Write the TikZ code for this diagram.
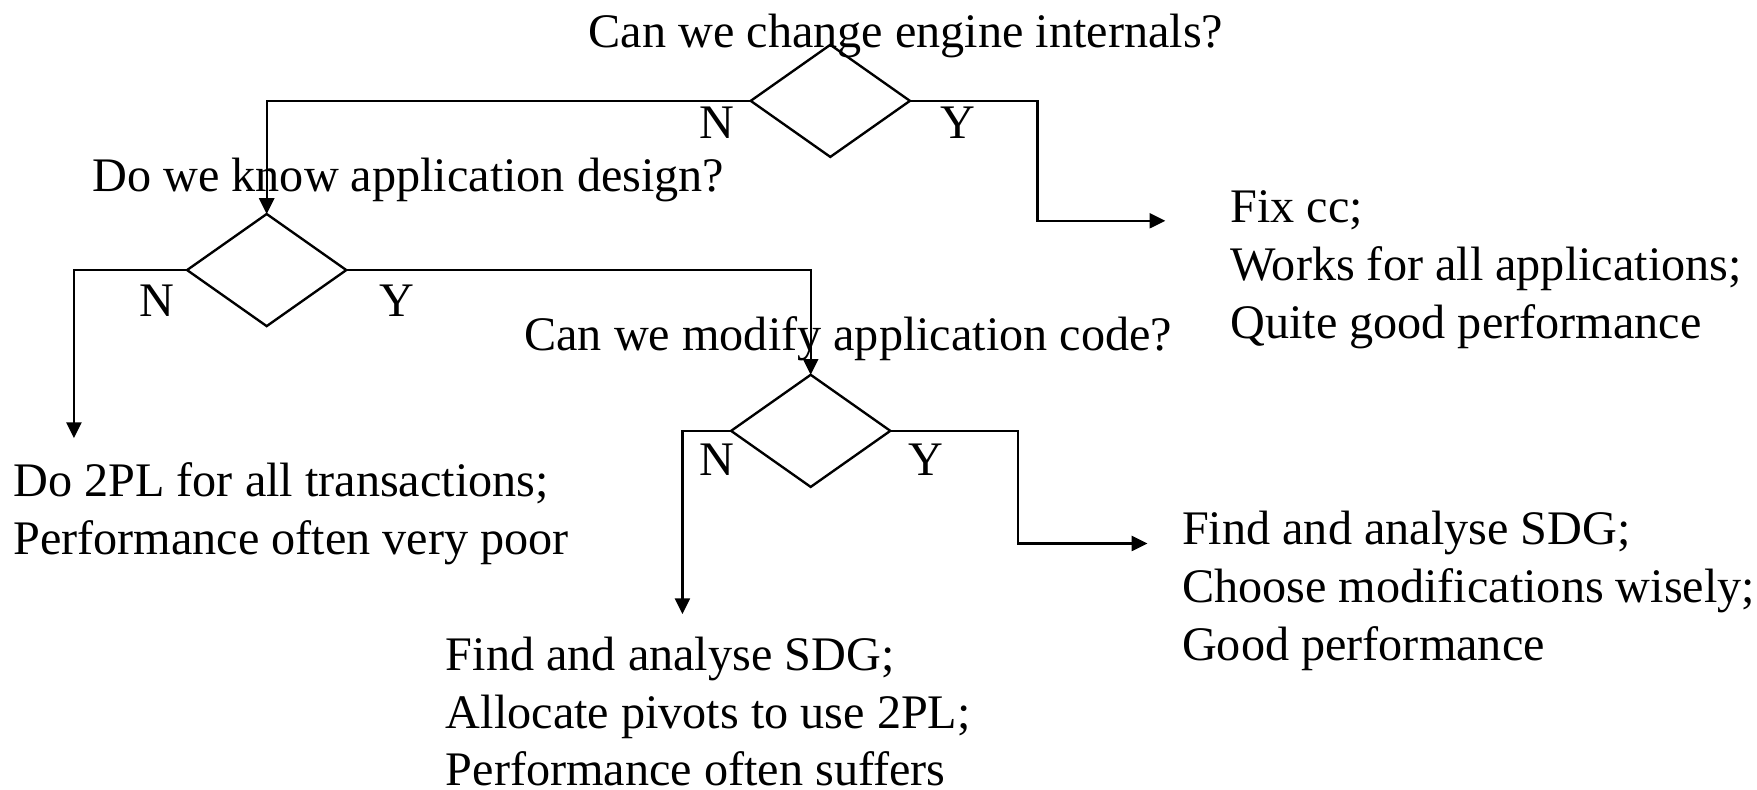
\documentclass[tikz,border=0pt]{standalone}
\usepackage{fontspec}
\setmainfont{Liberation Serif}
\usetikzlibrary{shapes.geometric,arrows.meta}
% multi-line block whose baseline is the first line
\newcommand\stackedlines[1]{\begin{tabular}[t]{@{}l@{}}#1\end{tabular}}

\begin{document}
\begin{tikzpicture}[x=0.01cm,y=-0.01cm,
  font=\fontsize{12.23}{14.7}\selectfont,
  every node/.style={inner sep=0pt,outer sep=0pt},
  decision/.style={draw,diamond,minimum width=1.42cm,minimum height=1cm,line width=0.6pt},
  question/.style={anchor=base},
  answer/.style={anchor=base},
  outcome/.style={anchor=base west},
  flow/.style={line width=0.6pt,-{Triangle[length=4pt,width=3.8pt]}}]
\useasboundingbox (0,0) rectangle (1568,705);

% decisions
\node[decision] (d1) at (741,90) {};
\node[decision] (d2) at (238,241) {};
\node[decision] (d3) at (723.5,384.5) {};

% questions
\node[question] (q1) at (808.5,42) {Can we change engine internals?};
\node[question] (q2) at (364.5,171) {Do we know application design?};
\node[question] (q3) at (757,313) {Can we modify application code?};

% branch labels
\node[answer] (n1) at (640,124) {N};
\node[answer] (y1) at (855,124) {Y};
\node[answer] (n2) at (140,282) {N};
\node[answer] (y2) at (354,282) {Y};
\node[answer] (n3) at (640,424) {N};
\node[answer] (y3) at (826,424) {Y};

% outcomes
\node[outcome] (r1) at (1098,199) {\stackedlines{Fix cc;\\Works for all applications;\\Quite good performance}};
\node[outcome] (r2) at (12,443) {\stackedlines{Do 2PL for all transactions;\\Performance often very poor}};
\node[outcome] (r3) at (1055,486) {\stackedlines{Find and analyse SDG;\\Choose modifications wisely;\\Good performance}};
\node[outcome] (r4) at (398,598) {\stackedlines{Find and analyse SDG;\\Allocate pivots to use 2PL;\\Performance often suffers}};

% arrow ends in front of the outcomes
\coordinate (e1) at (1040,197);
\coordinate (e2) at (66,391);
\coordinate (e3) at (1024,485);
\coordinate (e4) at (609,548);

% connectors
\draw[flow] (d1.west) -| (d2.north);
\draw[flow] (d1.east) -- ++(114,0) |- (e1);
\draw[flow] (d2.west) -| (e2);
\draw[flow] (d2.east) -| (d3.north);
\draw[flow] (d3.west) -| (e4);
\draw[flow] (d3.east) -- ++(114,0) |- (e3);
\end{tikzpicture}
\end{document}
